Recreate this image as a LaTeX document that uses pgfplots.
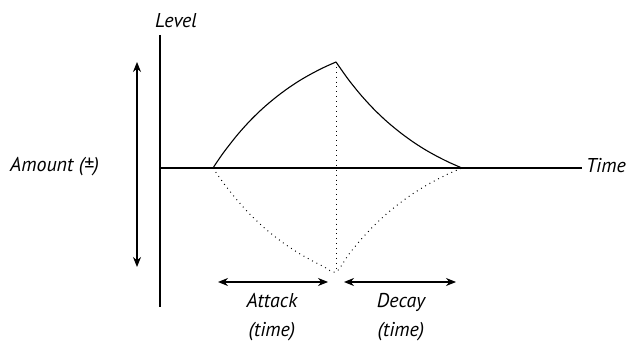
\documentclass[border=0pt]{standalone}
\usepackage{fontspec}
\setmainfont{PT Sans}
\usepackage{pgfplots}
\pgfplotsset{compat=1.18}
\usetikzlibrary{arrows.meta}

\newcommand{\lbl}{\fontsize{20}{24}\selectfont\itshape}

% envelope shape, x in px, level in px above the time axis
\pgfplotstableread{
x      y
213    0
219.15 9.2
225.3  17.8
237.6  33.4
249.9  47.1
262.2  59.1
274.5  69.6
286.8  78.9
299.1  87.1
311.4  94.2
323.7  100.5
336    106
}\attack
\pgfplotstableread{
x      y
336    106
348.6  88.2
361.2  72.6
373.8  58.9
386.4  46.9
399    36.4
411.6  27.1
424.2  18.9
436.8  11.8
449.4  5.5
462    0
}\decay
\pgfplotstableread{
x      y
213    0
219.15 -9.0
225.3  -17.4
237.6  -32.7
249.9  -46.2
262.2  -58.0
274.5  -68.3
286.8  -77.4
299.1  -85.4
311.4  -92.4
323.7  -98.6
336    -104
348.6  -86.6
361.2  -71.3
373.8  -57.8
386.4  -46.0
399    -35.7
411.6  -26.6
424.2  -18.6
436.8  -11.6
449.4  -5.4
462    0
}\mirror

\begin{document}
\begin{tikzpicture}
\begin{axis}[
    width=629pt, height=343pt,
    scale only axis,
    xmin=0, xmax=629,
    ymin=-175, ymax=168,
    hide axis,
    clip=false,
]
\path (rel axis cs:0,0) rectangle (rel axis cs:1,1);

% axes
\addplot[black, line width=1.1pt] coordinates {(160,133) (160,-139)};
\addplot[black, line width=1.1pt] coordinates {(160,0) (582,0)};

% envelope
\addplot[black, line width=1.1pt, smooth] table {\attack};
\addplot[black, line width=1.1pt, smooth] table {\decay};
\addplot[black, line width=1pt, dash pattern=on 0.9pt off 4pt, smooth] table {\mirror};
\addplot[black, line width=1pt, dash pattern=on 0.9pt off 4pt] coordinates {(336,106) (336,-104)};

% arrows
\addplot[black, line width=1.1pt, {Stealth[length=10pt,width=8pt]}-{Stealth[length=10pt,width=8pt]}] coordinates {(137,106) (137,-99)};
\addplot[black, line width=1.1pt, {Stealth[length=10pt,width=8pt]}-{Stealth[length=10pt,width=8pt]}] coordinates {(218,-114) (328,-114)};
\addplot[black, line width=1.1pt, {Stealth[length=10pt,width=8pt]}-{Stealth[length=10pt,width=8pt]}] coordinates {(344,-114) (456,-114)};

% labels
\node[anchor=base west, inner sep=0pt, font=\lbl] at (axis cs:155,140) {Level};
\node[anchor=base west, inner sep=0pt, font=\lbl] at (axis cs:10,-4) {Amount (±)};
\node[anchor=base west, inner sep=0pt, font=\lbl] at (axis cs:586,-5) {Time};
\node[anchor=base, inner sep=0pt, font=\lbl] at (axis cs:272,-139) {Attack};
\node[anchor=base, inner sep=0pt, font=\lbl] at (axis cs:272,-168) {(time)};
\node[anchor=base, inner sep=0pt, font=\lbl] at (axis cs:401,-139) {Decay};
\node[anchor=base, inner sep=0pt, font=\lbl] at (axis cs:401,-168) {(time)};
\end{axis}
\end{tikzpicture}
\end{document}
